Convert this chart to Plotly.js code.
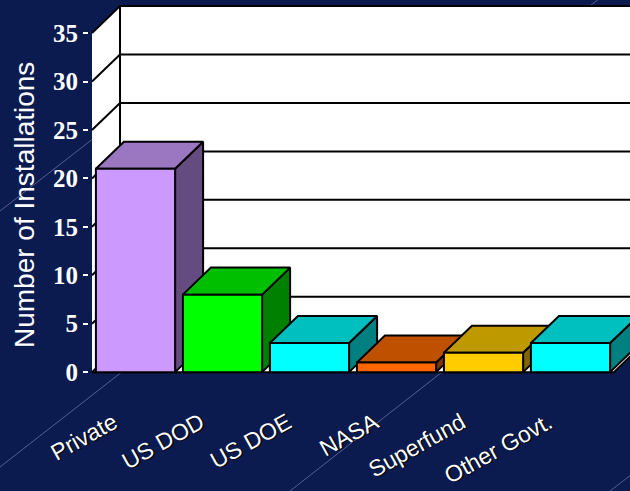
<!DOCTYPE html>
<html>
<head>
<meta charset="utf-8">
<script src="https://cdn.plot.ly/plotly-3.0.1.min.js"></script>
<style>
  html, body { margin: 0; padding: 0; background: #0B1B50; overflow: hidden; }
  #chart { width: 630px; height: 491px; }
</style>
</head>
<body>
<div id="chart"></div>
<script>
// ---- data ----
const categories = ['Private', 'US DOD', 'US DOE', 'NASA', 'Superfund', 'Other Govt.'];
const installations = [21, 8, 3, 1, 2, 3];
const frontColors = ['#CC99FF', '#00FF00', '#00FFFF', '#FF6600', '#FFCC00', '#00FFFF'];
const topColors   = ['#9A77C0', '#00BF00', '#00BFBF', '#BF5000', '#BF9900', '#00BFBF'];
const sideColors  = ['#654C80', '#008000', '#008080', '#803300', '#806600', '#008080'];
const yTickValues = [0, 5, 10, 15, 20, 25, 30, 35];
const yTitle = 'Number of Installations';

// ---- 3D look (in axis units) ----
const W = 0.91;     // bar width
const DX = 0.322;   // depth offset along x
const DY = 2.79;    // depth offset along y
const X0 = -0.5, X1 = categories.length - 0.5;
const YMAX = yTickValues[yTickValues.length - 1];

const traces = [];
const poly = (xs, ys, fill, line) => ({
  type: 'scatter', mode: 'lines', x: xs, y: ys, fill: 'toself', fillcolor: fill,
  line: line || { width: 0, color: fill }, hoverinfo: 'skip', showlegend: false
});

// walls and floor
traces.push(poly([X0, X0, X0 + DX, X0 + DX, X0], [0, YMAX, YMAX + DY, DY, 0], '#FFFFFF'));
traces.push(poly([X0 + DX, X1 + DX, X1 + DX, X0 + DX, X0 + DX], [DY, DY, YMAX + DY, YMAX + DY, DY], '#FFFFFF'));
traces.push(poly([X0, X1, X1 + DX, X0 + DX, X0], [0, 0, DY, DY, 0], '#FFFFFF', { width: 2, color: '#000' }));

// grid lines on left and back walls
const gx = [], gy = [];
yTickValues.forEach(v => {
  if (v === 0) return;
  gx.push(X0, X0 + DX, X1 + DX, null);
  gy.push(v, v + DY, v + DY, null);
});
gx.push(X0 + DX, X0 + DX, null);
gy.push(DY, YMAX + DY, null);
traces.push({ type: 'scatter', mode: 'lines', x: gx, y: gy, line: { color: '#000', width: 2 },
  hoverinfo: 'skip', showlegend: false, connectgaps: false });

// side and top faces of bars, left to right
const outline = { width: 2, color: '#000' };
installations.forEach((v, i) => {
  const L = i - W / 2, R = i + W / 2;
  traces.push(poly([R, R, R + DX, R + DX, R], [0, v, v + DY, DY, 0], sideColors[i], outline));
  traces.push(poly([L, R, R + DX, L + DX, L], [v, v, v + DY, v + DY, v], topColors[i], outline));
});

// front faces (overlay subplot, drawn above)
traces.push({
  type: 'bar', x: categories.map((c, i) => i), y: installations, width: W,
  marker: { color: frontColors, line: { color: '#000', width: 2 } },
  xaxis: 'x2', yaxis: 'y2', showlegend: false,
  text: categories, hoverinfo: 'text+y', textposition: 'none'
});

// pixel geometry
const ML = 89, MT = 4, MB = 115, PW = 630 - ML, PH = 491 - MT - MB;
const pxPerX = 87, pxPerY = 9.686;
const xr0 = X0 - 3 / pxPerX, xr = [xr0, xr0 + PW / pxPerX];
const yr0 = -0.4, yr = [yr0, yr0 + PH / pxPerY];
const toPaper = (px, py) => [(px - ML) / PW, (491 - MB - py) / PH];

// decorative diagonal background lines
const deco = [[0, 211, 130, 110], [0, 467, 150, 350], [290, 491, 460, 358], [610, 491, 640, 468], [580, 14, 600, -2]];
const shapes = deco.map(d => {
  const a = toPaper(d[0], d[1]), b = toPaper(d[2], d[3]);
  return { type: 'line', xref: 'paper', yref: 'paper', x0: a[0], y0: a[1], x1: b[0], y1: b[1],
    line: { color: 'rgba(170,180,225,0.45)', width: 1 }, layer: 'below' };
});

const tp = toPaper(24, 205);
const layout = {
  width: 630, height: 491,
  margin: { l: ML, r: 0, t: MT, b: MB, pad: 0 },
  paper_bgcolor: '#0B1B50', plot_bgcolor: '#0B1B50',
  showlegend: false,
  xaxis: {
    range: xr, tickmode: 'array', tickvals: categories.map((c, i) => i), ticktext: categories,
    tickangle: -29, showgrid: false, zeroline: false, showline: false, ticks: '',
    tickfont: { family: 'Liberation Sans, Arial, sans-serif', size: 23, color: '#FFFFFF', shadow: '1px 1px 1px #000' },
    ticklabelshift: -22, ticklabelstandoff: 28, fixedrange: true
  },
  yaxis: {
    range: yr, tickmode: 'array', tickvals: yTickValues, showgrid: false, zeroline: false, showline: false,
    ticks: 'outside', ticklen: 5, tickwidth: 2, tickcolor: '#FFFFFF',
    tickfont: { family: 'Liberation Serif, Times New Roman, serif', size: 25, color: '#FFFFFF', weight: 'bold' },
    fixedrange: true
  },
  xaxis2: { overlaying: 'x', range: xr, visible: false, fixedrange: true },
  yaxis2: { overlaying: 'y', range: yr, visible: false, fixedrange: true },
  shapes: shapes,
  annotations: [{
    text: yTitle, xref: 'paper', yref: 'paper', x: tp[0], y: tp[1], showarrow: false,
    textangle: -90, xanchor: 'center', yanchor: 'middle',
    font: { family: 'Liberation Sans, Arial, sans-serif', size: 28, color: '#FFFFFF' }
  }]
};

Plotly.newPlot('chart', traces, layout, { displayModeBar: false, staticPlot: true });
</script>
</body>
</html>
